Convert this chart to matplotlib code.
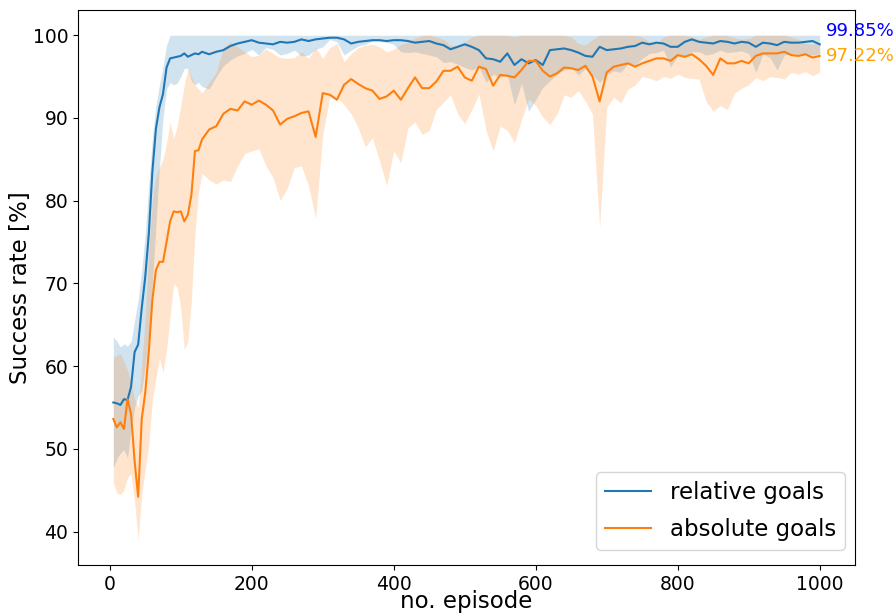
import numpy as np
import matplotlib
matplotlib.use("Agg")
import matplotlib.pyplot as plt

# episode grid (finer at the start)
episodes = list(range(5, 131, 5)) + list(range(140, 1001, 10))

rel_mean = [55.6, 55.5, 55.3, 56.0, 55.9, 57.5, 61.7, 62.6, 67.0, 70.8,
            76.0, 83.5, 88.7, 91.3, 92.9, 96.1, 97.2, 97.3, 97.4, 97.5,
            97.8, 97.4, 97.6, 97.8, 97.7, 98.0,
            97.7, 98.0, 98.2, 98.7, 99.0, 99.2, 99.4, 99.1, 99.0, 98.9,
            99.2, 99.1, 99.2, 99.5, 99.3, 99.5, 99.6, 99.7, 99.7, 99.5,
            99.0, 99.2, 99.3, 99.4, 99.4, 99.3, 99.4, 99.4, 99.3, 99.1,
            99.2, 99.3, 99.0, 98.8, 98.3, 98.6, 98.9, 98.6, 98.2, 97.2,
            97.1, 96.8, 97.8, 96.4, 97.1, 96.6, 97.0, 96.4, 98.2, 98.3,
            98.4, 98.2, 97.9, 97.5, 97.4, 98.6, 98.2, 98.3, 98.4, 98.6,
            98.7, 99.1, 98.9, 99.1, 99.0, 98.6, 98.6, 99.2, 99.5, 99.2,
            99.1, 99.0, 99.3, 99.2, 99.0, 99.2, 99.1, 98.6, 99.1, 99.0,
            98.8, 99.2, 99.1, 99.1, 99.2, 99.3, 98.9]

rel_low = [47.7, 48.8, 49.5, 49.9, 48.9, 52.4, 55.0, 56.4, 57.0, 60.0,
           64.0, 70.0, 77.0, 84.0, 90.0, 93.5, 94.3, 94.0, 94.2, 95.0,
           96.0, 96.0, 94.5, 94.0, 94.3, 93.8,
           93.5, 95.0, 96.3, 97.0, 97.5, 97.8, 98.3, 97.6, 98.5, 98.3,
           97.6, 97.8, 98.2, 97.5, 97.6, 98.3, 98.6, 99.5, 99.2, 97.6,
           98.2, 98.7, 98.9, 99.3, 99.3, 99.1, 98.9, 98.0, 97.9, 98.0,
           97.8, 97.6, 97.4, 96.7, 96.8, 96.5, 96.1, 95.8, 96.2, 94.3,
           95.3, 94.9, 95.2, 91.6, 94.2, 90.8, 92.2, 93.7, 94.5, 95.3,
           95.8, 96.1, 95.2, 96.0, 95.2, 94.3, 95.2, 95.7, 95.5, 96.6,
           96.4, 97.2, 97.8, 97.9, 98.2, 96.2, 97.5, 97.6, 98.0, 98.0,
           97.6, 97.8, 98.2, 97.9, 98.0, 98.1, 97.8, 95.5, 97.7, 97.3,
           95.8, 97.6, 97.8, 97.7, 97.8, 97.6, 97.8]

rel_high = [63.5, 63.0, 62.3, 62.7, 62.4, 63.0, 65.5, 68.0, 71.5, 76.0,
            82.0, 87.5, 91.5, 94.0, 96.2, 98.8] + [100.0] * 97

abs_mean = [53.6, 52.6, 53.2, 52.4, 56.0, 54.2, 48.5, 44.2, 53.6, 56.8,
            61.8, 68.0, 71.6, 72.6, 72.6, 75.0, 77.5, 78.7, 78.6, 78.7,
            77.5, 78.3, 80.7, 86.0, 86.1, 87.4,
            88.6, 89.0, 90.5, 91.1, 90.9, 92.0, 91.6, 92.1, 91.6, 90.9,
            89.2, 89.9, 90.2, 90.6, 90.8, 87.7, 93.0, 92.8, 92.2, 94.0,
            94.7, 94.1, 93.6, 93.3, 92.3, 92.6, 93.3, 92.2, 93.6, 94.9,
            93.6, 93.6, 94.4, 95.7, 95.7, 96.2, 94.9, 94.5, 96.2, 95.9,
            93.9, 95.2, 95.1, 94.9, 95.8, 96.9, 96.9, 95.7, 95.0, 95.4,
            96.1, 96.0, 95.8, 96.3, 95.0, 92.0, 95.5, 96.2, 96.4, 96.6,
            96.2, 96.6, 96.9, 97.2, 97.2, 96.9, 97.6, 97.4, 97.7, 97.1,
            96.3, 95.2, 97.2, 96.6, 96.6, 96.9, 96.6, 97.5, 97.8, 97.8,
            97.8, 98.0, 97.6, 97.5, 97.7, 97.3, 97.5]

abs_low = [45.9, 44.6, 44.5, 45.0, 46.5, 47.0, 43.5, 39.0, 44.5, 47.5,
           50.5, 56.0, 58.5, 61.0, 59.2, 62.0, 66.0, 70.0, 69.5, 67.0,
           62.0, 63.0, 68.0, 76.0, 81.0, 83.3,
           82.5, 82.0, 82.5, 82.3, 84.2, 85.7, 86.0, 86.3, 84.2, 82.8,
           80.0, 81.5, 84.0, 84.2, 81.8, 77.8, 88.0, 92.5, 92.5, 91.6,
           90.5, 88.8, 86.5, 87.6, 84.8, 81.8, 86.0, 84.6, 88.8, 89.5,
           88.0, 88.5, 91.0, 91.9, 92.8, 90.5, 89.3, 91.0, 92.9, 88.5,
           86.0, 89.0, 88.5, 87.0, 89.8, 92.3, 91.5, 90.1, 89.2, 90.5,
           92.8, 92.5, 93.3, 92.0, 90.5, 76.7, 91.3, 92.5, 91.8, 93.5,
           94.0, 95.0, 94.8, 94.5, 95.0, 94.8, 95.3, 94.9, 94.8, 94.7,
           92.0, 90.8, 91.5, 91.0, 93.0, 93.6, 94.0, 94.9, 94.5, 95.0,
           94.9, 94.7, 95.5, 95.3, 95.6, 95.1, 95.5]

abs_high = [61.1, 61.3, 61.5, 60.5, 59.5, 58.0, 56.0, 55.0, 60.0, 66.0,
            74.0, 80.0, 83.0, 84.0, 85.0, 87.0, 89.5, 87.5, 89.0, 91.5,
            94.0, 96.0, 95.0, 94.0, 93.5, 93.0,
            94.3, 95.5, 98.5, 99.2, 98.6, 98.0, 97.4, 97.6, 98.3, 97.8,
            97.3, 97.2, 97.3, 98.0, 97.2, 98.5, 97.2, 98.5, 99.0, 96.8,
            97.8, 98.5, 98.8, 98.9, 98.6, 98.0, 98.3, 98.9, 99.2, 99.6,
            100.0, 100.0, 99.8, 99.5, 98.8, 98.7, 99.2, 99.8, 100.0, 100.0,
            100.0, 100.0, 100.0, 99.8, 100.0, 100.0, 100.0, 100.0, 100.0, 100.0,
            100.0, 99.8, 99.0, 98.8, 99.5, 100.0, 100.0, 100.0, 100.0, 100.0,
            100.0, 99.8, 99.2, 99.0, 99.8, 100.0, 100.0, 100.0, 99.8, 99.5,
            99.8, 100.0, 100.0, 100.0, 99.7, 99.5, 99.6, 100.0, 100.0, 100.0,
            100.0, 100.0, 99.8, 99.5, 99.0, 98.9, 99.0]

series_labels = ["relative goals", "absolute goals"]
final_labels = ["99.85%", "97.22%"]
final_label_y = [100.55, 97.45]
final_label_colors = ["blue", "orange"]

fig = plt.figure(figsize=(8.96, 6.13), dpi=100)
ax = fig.add_axes([78 / 896, 48 / 613, 777 / 896, 555 / 613])

ax.plot(episodes, rel_mean, color="#1f77b4", lw=1.5, label=series_labels[0])
ax.fill_between(episodes, rel_low, rel_high, color="#1f77b4", alpha=0.2, lw=0)
ax.plot(episodes, abs_mean, color="#ff7f0e", lw=1.5, label=series_labels[1])
ax.fill_between(episodes, abs_low, abs_high, color="#ff7f0e", alpha=0.2, lw=0)

for txt, yv, c in zip(final_labels, final_label_y, final_label_colors):
    ax.text(1009, yv, txt, color=c, fontsize=13, va="center", ha="left", clip_on=False)

ax.set_xlim(-44.75, 1049.75)
ax.set_ylim(35.95, 103.05)
ax.set_xticks([0, 200, 400, 600, 800, 1000])
ax.set_yticks([40, 50, 60, 70, 80, 90, 100])
ax.tick_params(labelsize=13.5)
ax.set_xlabel("no. episode", fontsize=16.5, labelpad=-2.5)
ax.set_ylabel("Success rate [%]", fontsize=16.5, labelpad=0.5)
ax.legend(loc="lower right", fontsize=16.5, labelspacing=0.6,
          bbox_to_anchor=(0.9871, 0.027), borderaxespad=0)

fig.savefig("out.png", dpi=100)
